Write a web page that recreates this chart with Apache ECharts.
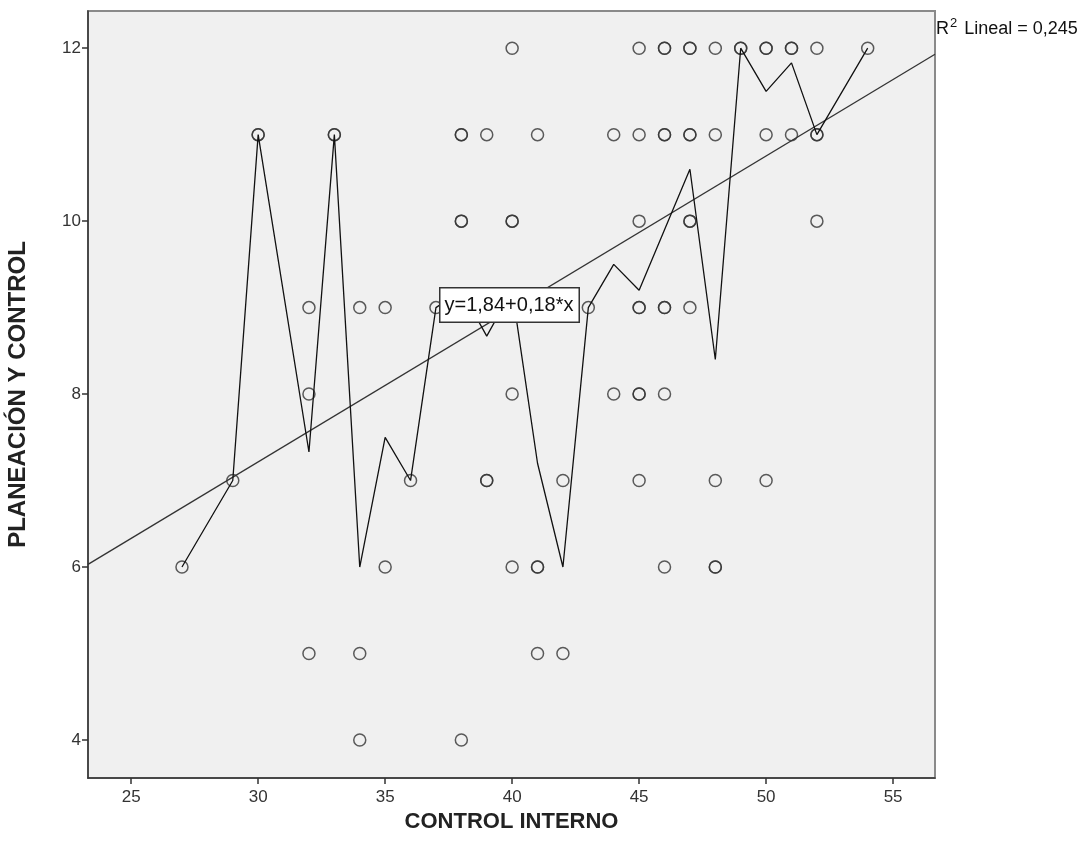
<!DOCTYPE html>
<html>
<head>
<meta charset="utf-8">
<script src="https://cdn.jsdelivr.net/npm/echarts@6/dist/echarts.min.js"></script>
<style>
  html, body { margin: 0; padding: 0; background: #fff; }
  #chart { width: 1091px; height: 856px; }
</style>
</head>
<body>
<div id="chart"></div>
<script>
// tick labels
var xTicks = [25, 30, 35, 40, 45, 50, 55];
var yTicks = [4, 6, 8, 10, 12];

// observed cases (duplicates = overlapping cases, drawn darker)
var pointsX = [
  40, 45, 46, 46, 47, 47, 48, 49, 49, 50, 50, 51, 51, 52, 54,
  30, 30, 33, 33, 38, 38, 39, 41, 44, 45, 46, 46, 47, 47, 48, 50, 51, 52, 52,
  38, 38, 40, 40, 45, 47, 47, 52,
  32, 34, 35, 37, 43, 45, 45, 46, 46, 47,
  32, 40, 44, 45, 45, 46,
  29, 36, 39, 39, 42, 45, 48, 50,
  27, 35, 40, 41, 41, 46, 48, 48,
  32, 34, 41, 42,
  34, 38
];
var pointsY = [
  12, 12, 12, 12, 12, 12, 12, 12, 12, 12, 12, 12, 12, 12, 12,
  11, 11, 11, 11, 11, 11, 11, 11, 11, 11, 11, 11, 11, 11, 11, 11, 11, 11, 11,
  10, 10, 10, 10, 10, 10, 10, 10,
  9, 9, 9, 9, 9, 9, 9, 9, 9, 9,
  8, 8, 8, 8, 8, 8,
  7, 7, 7, 7, 7, 7, 7, 7,
  6, 6, 6, 6, 6, 6, 6, 6,
  5, 5, 5, 5,
  4, 4
];

// interpolation line (mean per x value)
var meanX = [27, 29, 30, 32, 33, 34, 35, 36, 37, 38, 39, 40, 41, 42, 43, 44, 45, 46, 47, 48, 49, 50, 51, 52, 54];
var meanY = [6, 7, 11, 7.33, 11, 6, 7.5, 7, 9, 9.2, 8.67, 9.2, 7.2, 6, 9, 9.5, 9.2, 9.9, 10.6, 8.4, 12, 11.5, 11.83, 11, 12];

// linear fit line end points
var fitX = [23.3, 56.65];
var fitY = [6.03, 11.93];

var chart = echarts.init(document.getElementById('chart'));

var font = '"Liberation Sans", Arial, sans-serif';

var scatterData = pointsX.map(function (x, i) { return [x, pointsY[i]]; });
var meanData = meanX.map(function (x, i) { return [x, meanY[i]]; });
var fitData = fitX.map(function (x, i) { return [x, fitY[i]]; });

chart.setOption({
  animation: false,
  textStyle: { fontFamily: font },
  grid: {
    left: 88, top: 11, right: 156, bottom: 78,
    outerBoundsMode: 'none',
    containLabel: false,
    show: true,
    backgroundColor: '#f0f0f0',
    borderColor: '#8a8a8a',
    borderWidth: 2
  },
  xAxis: {
    type: 'value',
    min: 23.3,
    max: 56.65,
    name: 'CONTROL INTERNO',
    nameLocation: 'middle',
    nameGap: 31,
    nameTextStyle: { fontSize: 22, fontWeight: 'bold', color: '#222', fontFamily: font },
    splitLine: { show: false },
    axisLine: { show: true, lineStyle: { color: '#333', width: 1.5 } },
    axisTick: { show: true, length: 6, lineStyle: { color: '#333', width: 1.5 }, customValues: xTicks },
    axisLabel: { color: '#333', fontSize: 17, margin: 11, customValues: xTicks }
  },
  yAxis: {
    type: 'value',
    min: 3.56,
    max: 12.43,
    name: 'PLANEACIÓN Y CONTROL',
    nameLocation: 'middle',
    nameGap: 58,
    nameRotate: 90,
    nameTextStyle: { fontSize: 24, fontWeight: 'bold', color: '#222', fontFamily: font },
    splitLine: { show: false },
    axisLine: { show: true, lineStyle: { color: '#333', width: 1.5 } },
    axisTick: { show: true, length: 6, lineStyle: { color: '#333', width: 1.5 }, customValues: yTicks },
    axisLabel: { color: '#333', fontSize: 17, margin: 7, customValues: yTicks }
  },
  series: [
    {
      type: 'scatter',
      data: scatterData,
      symbol: 'circle',
      symbolSize: 12,
      itemStyle: { color: 'rgba(0,0,0,0)', borderColor: '#333', borderWidth: 1.5 },
      z: 2
    },
    {
      type: 'line',
      data: fitData,
      showSymbol: false,
      lineStyle: { color: '#333', width: 1.3 },
      z: 3
    },
    {
      type: 'line',
      data: meanData,
      showSymbol: false,
      lineStyle: { color: '#111', width: 1.3 },
      z: 4
    }
  ],
  graphic: [
    {
      type: 'text',
      left: 439,
      top: 287,
      z: 100,
      style: {
        text: 'y=1,84+0,18*x',
        font: '20px ' + font,
        fill: '#111',
        backgroundColor: '#fff',
        borderColor: '#333',
        borderWidth: 1.5,
        padding: [7, 5, 6, 4]
      }
    },
    {
      type: 'text',
      left: 936,
      top: 17,
      z: 100,
      style: {
        text: '{r|R}{s|2}{r| Lineal = 0,245}',
        rich: {
          r: { font: '18px ' + font, fill: '#111', verticalAlign: 'bottom' },
          s: { font: '13px ' + font, fill: '#111', verticalAlign: 'top', padding: [0, 2, 8, 1] }
        }
      }
    }
  ]
});
</script>
</body>
</html>
